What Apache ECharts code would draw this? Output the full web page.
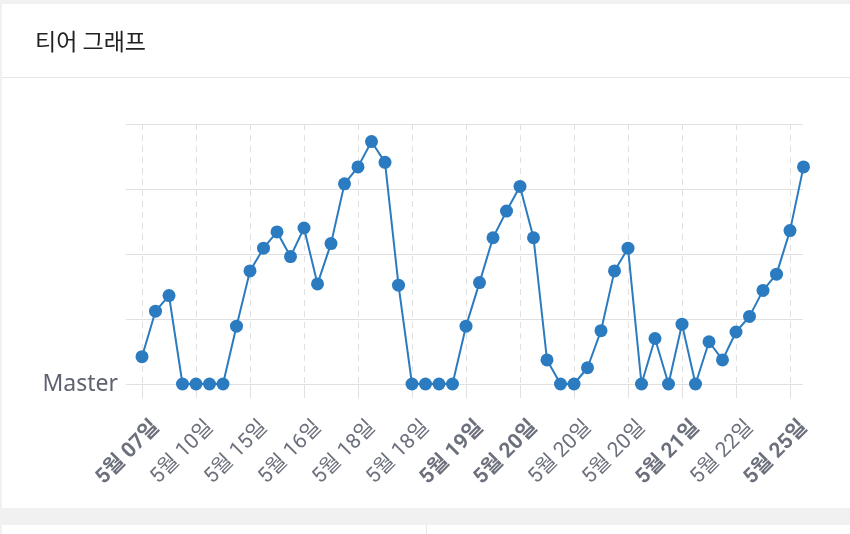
<!DOCTYPE html>
<html>
<head>
<meta charset="utf-8">
<script src="https://cdn.jsdelivr.net/npm/echarts@6/dist/echarts.min.js"></script>
<style>
html,body{margin:0;padding:0;background:#f1f1f1;}
#chart{width:850px;height:534px;}
</style>
</head>
<body>
<div id="chart"></div>
<script>
// ---- data ----
const title = '티어 그래프';
const tickLabels = ['5월 07일','5월 10일','5월 15일','5월 16일','5월 18일','5월 18일','5월 19일','5월 20일','5월 20일','5월 20일','5월 21일','5월 22일','5월 25일'];
const boldTicks = [true,false,false,false,false,false,true,true,false,false,true,false,true];
const yTickLabels = ['Master','','','',''];
const values = [42,112,136,0,0,0,0,89,174,209,
                234,196,240,154,216,308,334,373,341,152,
                0,0,0,0,89,156,225,266,304,225,
                37,0,0,25,82,174,209,0,70,0,
                92,0,65,37,80,104,144,169,236,334];
const tickEvery = 4;
// one category per point; tick labels sit on every 4th point
const categories = values.map((v, i) => (i % tickEvery === 0 ? tickLabels[i / tickEvery] : '') + '#' + i);

const chart = echarts.init(document.getElementById('chart'));
const labelColor = '#6c707c';
const fontFam = "Roboto, 'Noto Sans CJK KR', sans-serif";

chart.setOption({
  backgroundColor: '#f1f1f1',
  animation: false,
  graphic: [
    { type: 'rect', z: -10, shape: { x: 2, y: 4, width: 848, height: 504 }, style: { fill: '#ffffff' } },
    { type: 'line', z: -9, shape: { x1: 2, y1: 77.5, x2: 850, y2: 77.5 }, style: { stroke: '#e6e6e6', lineWidth: 1 } },
    { type: 'rect', z: -10, shape: { x: 2, y: 525, width: 848, height: 9 }, style: { fill: '#ffffff' } },
    { type: 'line', z: -9, shape: { x1: 426.5, y1: 525, x2: 426.5, y2: 534 }, style: { stroke: '#e6e6e6', lineWidth: 1 } },
    { type: 'text', left: 35, top: 30, style: { text: title, fill: '#222222', font: "23px 'Noto Sans CJK KR', sans-serif" } }
  ],
  grid: [
    { left: 126, right: 47, top: 124, bottom: 150 },
    { left: 142, right: 46.5, top: 124, bottom: 150 }
  ],
  xAxis: [
    { gridIndex: 0, type: 'value', min: 0, max: 1, show: false },
    {
      gridIndex: 1, type: 'category', boundaryGap: false, data: categories,
      axisLine: { show: false },
      axisTick: { show: true, interval: tickEvery - 1, length: 14, lineStyle: { color: '#e0e0e0' } },
      splitLine: { show: true, interval: tickEvery - 1, lineStyle: { color: '#e0e0e0', type: [6, 5] } },
      axisLabel: {
        interval: tickEvery - 1, rotate: 45, margin: 26, verticalAlign: 'top', padding: [10, 0, 0, 0],
        color: labelColor, fontSize: 21, fontFamily: fontFam,
        formatter: function (val, idx) {
          const t = idx / tickEvery;
          const txt = tickLabels[t];
          return boldTicks[t] ? '{b|' + txt + '}' : txt;
        },
        rich: { b: { fontWeight: 'bold', color: labelColor, fontSize: 21, fontFamily: fontFam } }
      }
    }
  ],
  yAxis: [
    {
      gridIndex: 0, type: 'value', min: 0, max: 400, interval: 100,
      axisLine: { show: false }, axisTick: { show: false },
      splitLine: { show: true, lineStyle: { color: '#e0e0e0', width: 1 } },
      axisLabel: {
        margin: 8, color: '#5f6370', fontSize: 23, fontFamily: "'Noto Sans', Roboto, sans-serif",
        formatter: function (v) { return yTickLabels[Math.round(v / 100)] || ''; }
      }
    },
    { gridIndex: 1, type: 'value', min: 0, max: 400, interval: 100, show: false, splitLine: { show: false } }
  ],
  series: [{
    type: 'line', xAxisIndex: 1, yAxisIndex: 1, data: values,
    symbol: 'circle', symbolSize: 13, showAllSymbol: true,
    lineStyle: { color: '#2b7bc1', width: 2 },
    itemStyle: { color: '#2b7bc1' }
  }]
});
</script>
</body>
</html>
